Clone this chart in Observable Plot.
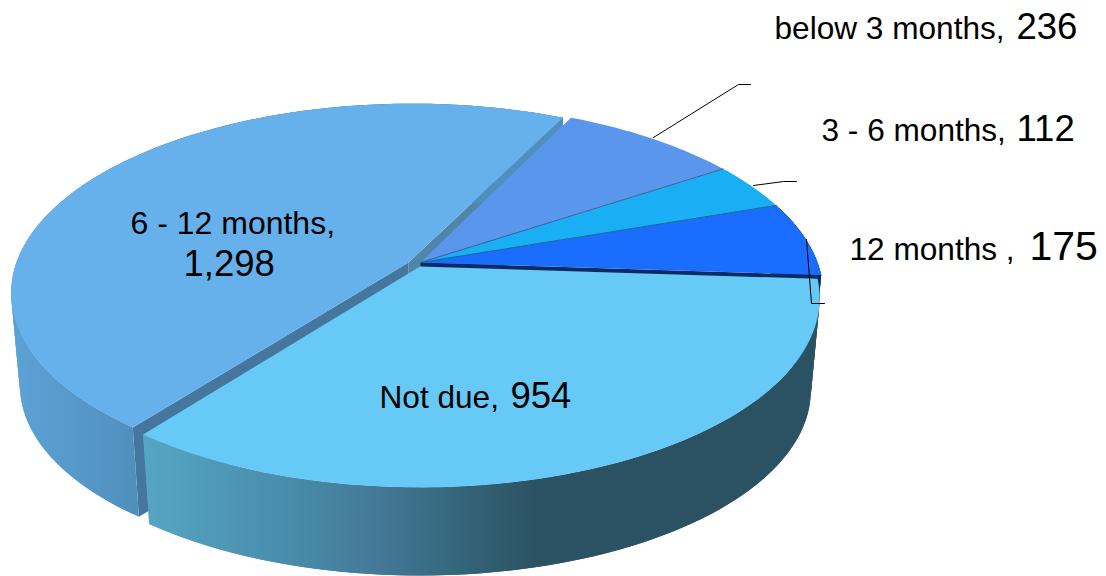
<!DOCTYPE html>
<html><head><meta charset="utf-8">
<style>html,body{margin:0;padding:0;background:#fff}svg{display:block}</style>
<script src="https://cdn.jsdelivr.net/npm/d3@7"></script>
<script src="https://cdn.jsdelivr.net/npm/@observablehq/plot@0.6"></script>
</head><body><div id="chart"></div>
<script>
// Data, clockwise from the top-right boundary of "12 months"
const categories = ["12 months", "Not due", "6 - 12 months", "below 3 months", "3 - 6 months"];
const values = [175, 954, 1298, 236, 112];
const valueLabels = ["175", "954", "1,298", "236", "112"];
const topColors = ["#1a6dff", "#66c9f6", "#66b0ec", "#5a96ec", "#1aaef5"];

// Perspective model of the pie: one view per slice (explosion offset and fit)
const startAngle = -18.9, depth = 93, shrink = 0.978;
const views = [
  {apex: [420, 262], R: 397, Ry: 186, k: 0.172, shear: 0},
  {apex: [419.5, 266], R: 394, Ry: 184, k: 0.167, shear: 0},
  {apex: [408, 262], R: 392, Ry: 183, k: 0.152, shear: -0.024},
  {apex: [420, 262], R: 397, Ry: 186, k: 0.172, shear: 0},
  {apex: [420, 262], R: 397, Ry: 186, k: 0.172, shear: 0}
];

const total = d3.sum(values);
let acc = startAngle;
const slices = categories.map((name, i) => {
  const a0 = acc, a1 = acc + values[i] / total * 360;
  acc = a1;
  return {name, i, a0, a1, view: views[i], color: topColors[i]};
});
function project(s, angle, r, lower) {
  const {apex, R, Ry, k, shear} = s.view;
  const t = angle * Math.PI / 180, u = r * Math.cos(t), v = r * Math.sin(t), w = 1 - k * v;
  const f = lower ? shrink : 1;
  const X = R * u / w, Y = Ry * v / w;
  return [apex[0] + f * (X + shear * Y), apex[1] + (lower ? depth : 0) + f * Y];
}
const angles = s => {
  const n = Math.ceil(s.a1 - s.a0);
  return d3.range(n + 1).map(j => s.a0 + (s.a1 - s.a0) * j / n);
};
const topPoly = s => [project(s, s.a0, 0, false), ...angles(s).map(a => project(s, a, 1, false))];
// outer wall: overlapping quads along the arc, so the silhouette includes the tangent edges and no seams show
const outerWall = s => {
  const as = angles(s);
  return as.slice(0, -1).flatMap((a, q) => {
    const b = as[Math.min(q + 2, as.length - 1)];
    return [project(s, a, 1, false), project(s, b, 1, false), project(s, b, 1, true), project(s, a, 1, true)]
      .map(p => [p[0], p[1], q]);
  });
};
const radialWall = (s, a) => [project(s, a, 0, false), project(s, a, 1, false), project(s, a, 1, true), project(s, a, 0, true)];
const shape = (pts, fill) => Plot.line(pts, {x: d => d[0], y: d => d[1], fill, stroke: "none", curve: "linear-closed"});
const wall = (s, fill) => Plot.line(outerWall(s), {x: d => d[0], y: d => d[1], z: d => d[2], fill, stroke: "none", curve: "linear-closed"});
const spoke = (s, a, stroke) => Plot.line([project(s, a, 0), project(s, a, 1)], {x: d => d[0], y: d => d[1], stroke, strokeWidth: 1});
const [s12, sNot, sSix, sBelow, sThree] = slices;

// Annotation layout
const labelsSmall = [
  {t: "below 3 months,", x: 774, y: 38}, {t: "3 - 6 months,", x: 821, y: 140},
  {t: "12 months ,", x: 849, y: 259}, {t: "Not due,", x: 379, y: 407}
];
const labelsSix = [{t: "6 - 12 months,", x: 130, y: 233}];
const labelsBig = [
  {t: valueLabels[3], x: 1016, y: 38}, {t: valueLabels[4], x: 1016, y: 140},
  {t: valueLabels[2], x: 183, y: 275}, {t: valueLabels[1], x: 510, y: 407}
];
const labelsHuge = [{t: valueLabels[0], x: 1029, y: 259}];
const leaders = [
  [[653, 137], [738, 84], [750, 84]],
  [[753, 185], [783, 181], [796, 181]],
  [[806, 239], [811, 303], [824, 303]]
];
const gradients = () => {
  const defs = d3.create("svg:defs");
  const g1 = defs.append("linearGradient").attr("id", "wallNot").attr("gradientUnits", "userSpaceOnUse")
    .attr("x1", 145).attr("x2", 535).attr("y1", 0).attr("y2", 0);
  [[0, "#56a5c4"], [0.4, "#478aa8"], [0.6, "#437896"], [0.78, "#36687e"], [1, "#2b5263"]]
    .forEach(([o, c]) => g1.append("stop").attr("offset", o).attr("stop-color", c));
  const g2 = defs.append("linearGradient").attr("id", "wallSix").attr("gradientUnits", "userSpaceOnUse")
    .attr("x1", 12).attr("x2", 140).attr("y1", 0).attr("y2", 0);
  [[0, "#5da2d6"], [1, "#4f8fbd"]].forEach(([o, c]) => g2.append("stop").attr("offset", o).attr("stop-color", c));
  return defs.node();
};
const txt = (data, size) => Plot.text(data, {x: "x", y: "y", text: "t", textAnchor: "start", lineAnchor: "bottom",
  fontSize: size, fontFamily: "Liberation Sans", fill: "#000"});

const chart = Plot.plot({
  width: 1106, height: 576, margin: 0,
  x: {domain: [0, 1106], range: [0, 1106], axis: null},
  y: {domain: [0, 576], range: [0, 576], axis: null},
  style: {background: "#fff"},
  marks: [
    gradients,
    shape(radialWall(sSix, sSix.a1), "#4f86a8"),
    shape(radialWall(sSix, sSix.a0), "#44769e"),
    wall(sSix, "url(#wallSix)"),
    shape(topPoly(sSix), sSix.color),
    shape(radialWall(s12, s12.a1), "#0b2a66"),
    wall(s12, "#0b2a66"),
    wall(sNot, "url(#wallNot)"),
    shape(topPoly(sBelow), sBelow.color),
    shape(topPoly(sThree), sThree.color),
    shape(topPoly(s12), s12.color),
    spoke(sBelow, sBelow.a1, "#3f5f9a"),
    spoke(sThree, sThree.a1, "#17698f"),
    shape(topPoly(sNot), sNot.color),
    ...leaders.map(l => Plot.line(l, {x: d => d[0], y: d => d[1], stroke: "#000", strokeWidth: 1})),
    txt(labelsSmall, 31.6),
    txt(labelsSix, 32),
    txt(labelsBig, 36.5),
    txt(labelsHuge, 41)
  ]
});
document.getElementById("chart").append(chart);
</script></body></html>
